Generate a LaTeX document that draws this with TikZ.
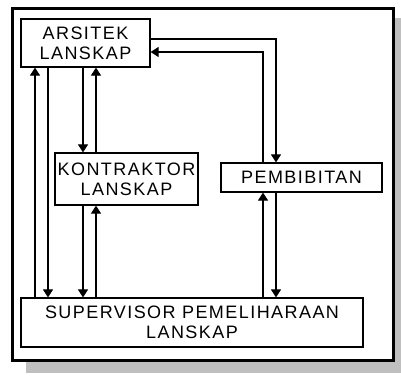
\documentclass[tikz,border=0pt]{standalone}
\usepackage{fontspec}
\usepackage{tikz}
\usetikzlibrary{arrows.meta}
\newfontfamily\hand{Liberation Sans}[LetterSpace=8]

\begin{document}
\begin{tikzpicture}[x=1pt, y=-1pt,
  box/.style={draw, line width=1.2pt, inner sep=0pt, align=center,
    font=\hand\fontsize{18}{20}\selectfont},
  arr/.style={line width=1.1pt, -{Triangle[length=8pt, width=10pt]}}]
  \useasboundingbox (0,0) rectangle (401,375);

  % Sombra y marco
  \fill[gray!50] (26,362) rectangle (401,373);
  \fill[gray!50] (395,18) rectangle (401,373);
  \draw[line width=3pt] (12,8) rectangle (393,360);

  % Cajas
  \node[box, minimum width=129pt, minimum height=48pt] (arsitek) at (85.5,43)
    {ARSITEK\\LANSKAP};
  \node[box, minimum width=143pt, minimum height=52pt] (kontraktor) at (126.5,179)
    {KONTRAKTOR\\LANSKAP};
  \node[box, minimum width=161pt, minimum height=29pt] (pembibitan) at (301.5,177.5)
    {PEMBIBITAN};
  \node[box, minimum width=342pt, minimum height=49pt] (supervisor) at (192,322.5)
    {SUPERVISOR PEMELIHARAAN\\LANSKAP};

  % Ejes verticales de las flechas
  \coordinate (a1) at (35,0);
  \coordinate (a2) at (48,0);
  \coordinate (k1) at (83,0);
  \coordinate (k2) at (96,0);
  \coordinate (p1) at (263,0);
  \coordinate (p2) at (276,0);

  % Arsitek <-> Supervisor
  \draw[arr] (supervisor.north -| a1) -- (arsitek.south -| a1);
  \draw[arr] (arsitek.south -| a2) -- (supervisor.north -| a2);

  % Arsitek <-> Kontraktor <-> Supervisor
  \draw[arr] (arsitek.south -| k1) -- (kontraktor.north -| k1);
  \draw[arr] (kontraktor.north -| k2) -- (arsitek.south -| k2);
  \draw[arr] (kontraktor.south -| k1) -- (supervisor.north -| k1);
  \draw[arr] (supervisor.north -| k2) -- (kontraktor.south -| k2);

  % Arsitek <-> Pembibitan
  \draw[arr] ([yshift=4pt]arsitek.east) -| (pembibitan.north -| p2);
  \draw[arr] (pembibitan.north -| p1) |- ([yshift=-9pt]arsitek.east);

  % Pembibitan <-> Supervisor
  \draw[arr] (supervisor.north -| p1) -- (pembibitan.south -| p1);
  \draw[arr] (pembibitan.south -| p2) -- (supervisor.north -| p2);
\end{tikzpicture}
\end{document}
